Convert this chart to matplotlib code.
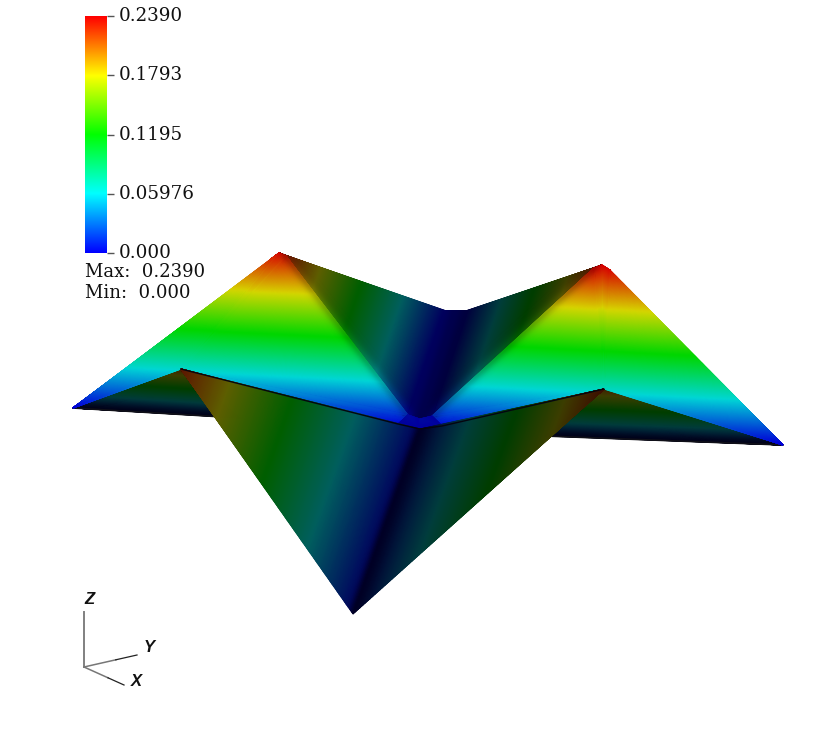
import numpy as np
import matplotlib
matplotlib.use("Agg")
import matplotlib.pyplot as plt
from matplotlib.colors import LinearSegmentedColormap, Normalize
from matplotlib.transforms import ScaledTranslation

# ---- scalar range and legend text -------------------------------------
VMIN, VMAX = 0.0, 0.2390
tick_values = [0.0, 0.05976, 0.1195, 0.1793, 0.2390]
tick_labels = ["0.000", "0.05976", "0.1195", "0.1793", "0.2390"]
max_text = "Max:  0.2390"
min_text = "Min:  0.000"
rainbow = ["#0000ff", "#00ffff", "#00ff00", "#ffff00", "#ff0000"]

# ---- projected surface vertices (screen position) --
L = (73, 408); BL = (279, 253); BL1 = (271, 259); BL2 = (286, 256)
R = (783, 445); BR = (602, 265); BR1 = (594, 268); BR2 = (610, 270)
VB1 = (445, 310.5); VB2 = (467, 310.5); VB0 = (456, 311)
VL = (408, 415); VM = (420, 419); VR = (432, 416)
CL = (398, 424); CM = (420, 429); CR = (442, 426)
FL = (181, 369); FR = (604, 389); F = (353, 614)
BOTL = (240, 418); BOTR = (545, 436)

# ---- panels: triangle corners, scalar at the corners, light level ------
wing_left_tris = [(L, BL1, FL), (BL1, BL, FL), (BL, BL2, FL), (BL2, VL, FL), (VL, CL, FL)]
wing_left_vals = [(0.0, 0.2266, 0.0634), (0.2266, 0.2357, 0.0634), (0.2357, 0.2319, 0.0634),
                  (0.2319, 0.0148, 0.0634), (0.0148, 0.0014, 0.0634)]
wing_right_tris = [(R, BR2, FR), (BR2, BR, FR), (BR, BR1, FR), (BR1, VR, FR), (VR, CR, FR)]
wing_right_vals = [(0.0, 0.2360, 0.0663), (0.2360, 0.2390, 0.0663), (0.2390, 0.2377, 0.0663),
                   (0.2377, 0.0152, 0.0663), (0.0152, 0.0017, 0.0663)]
cap_tris = [(VL, VM, CM), (VL, CM, CL), (VM, VR, CR), (VM, CR, CM)]
cap_vals = [(0.004, 0.0, 0.0)] * 4

valley_left_tris = [(BL, VB1, VL), (VB1, VB0, VM), (VB1, VM, VL)]
valley_left_vals = [(0.239, 0.0, 0.0), (0.0, 0.0, 0.0), (0.0, 0.0, 0.0)]
valley_right_tris = [(BR, VB2, VR), (VB2, VB0, VM), (VB2, VM, VR)]
valley_right_vals = [(0.239, 0.0, 0.0), (0.0, 0.0, 0.0), (0.0, 0.0, 0.0)]

under_left_tris = [(L, BOTL, FL)]
under_left_vals = [(0.0, 0.0, 0.205)]
under_right_tris = [(R, BOTR, FR)]
under_right_vals = [(0.0, 0.0, 0.205)]

front_left_tris = [(FL, CM, F)]
front_left_vals = [(0.225, 0.0, 0.0)]
front_right_tris = [(FR, CM, F)]
front_right_vals = [(0.225, 0.0, 0.0)]

LIT, DARK_L, DARK_R, CREASE = 0.84, 0.37, 0.24, 0.66

# ---- triad ---------------------------------------------------------------
origin = (84, 667)
axis_ends = {"Z": (84, 612), "Y": (137, 655), "X": (124, 685)}
axis_text = {"Z": (89, 600), "Y": (149, 648), "X": (136, 682)}

cmap = LinearSegmentedColormap.from_list("rainbow", rainbow, N=512)
norm = Normalize(VMIN, VMAX)

W, H = 830, 742
fig = plt.figure(figsize=(W / 100, H / 100), dpi=100, facecolor="white")
ax = fig.add_axes([0, 0, 1, 1])
ax.set_xlim(0, W)
ax.set_ylim(H, 0)
ax.axis("off")


def seg_dist(xx, yy, a, b):
    a = np.array(a, float); b = np.array(b, float)
    d = b - a
    t = np.clip(((xx - a[0]) * d[0] + (yy - a[1]) * d[1]) / (d @ d), 0, 1)
    return np.hypot(xx - a[0] - t * d[0], yy - a[1] - t * d[1])


def panel(tris, vals, shade, creases=(), n=150, z=1):
    for (A, B, C), (va, vb, vc) in zip(tris, vals):
        s, t = np.meshgrid(np.linspace(0, 1, n), np.linspace(0, 1, n))
        wa = 1 - s
        wb = s * (1 - t)
        wc = s * t
        xx = wa * A[0] + wb * B[0] + wc * C[0]
        yy = wa * A[1] + wb * B[1] + wc * C[1]
        vv = wa * va + wb * vb + wc * vc
        sh = np.full_like(xx, shade)
        for p, q, level, width in creases:
            w = np.exp(-(seg_dist(xx, yy, p, q) / width) ** 2)
            sh = sh * (1 - w) + level * w
        rgb = cmap(norm(vv))[..., :3] * sh[..., None]
        ax.pcolormesh(xx, yy, np.clip(rgb, 0, 1), shading="gouraud", zorder=z,
                      antialiased=False)


# back walls of the valley
panel(valley_left_tris, valley_left_vals, DARK_L,
      [(BL, VL, 0.50, 6), (VB0, VM, 0.30, 7)], z=1)
panel(valley_right_tris, valley_right_vals, DARK_R,
      [(BR, VR, 0.36, 7), (VB0, VM, 0.30, 7)], z=1)
# under side seen beyond the front fold
panel(under_left_tris, under_left_vals, DARK_R, [(L, BOTL, 0.10, 8)], z=1)
panel(under_right_tris, under_right_vals, DARK_R, [(R, BOTR, 0.10, 8)], z=1)
# rim, hidden where the front fold passes over it
for pts in [(L, BOTL), (BOTR, R)]:
    ax.plot([p[0] for p in pts], [p[1] for p in pts], color="#101018", lw=1.2, zorder=1.5)
# lit wings
panel(wing_left_tris, wing_left_vals, LIT, [(BL2, VL, CREASE, 5)], z=2)
panel(wing_right_tris, wing_right_vals, LIT, [(BR1, VR, CREASE, 5)], z=2)
panel(cap_tris, cap_vals, 0.62, n=30, z=3)
# front fold
panel(front_left_tris, front_left_vals, DARK_L, [(CM, F, 0.16, 5)], z=4)
panel(front_right_tris, front_right_vals, DARK_R, [(CM, F, 0.15, 12)], z=4)

# dark ridge line
ridge = (FL, CL, CM, CR, FR)
ax.plot([p[0] for p in ridge], [p[1] for p in ridge], color="#05050f", lw=1.0, zorder=5,
        solid_capstyle="round")

# triad
for name, end in axis_ends.items():
    mid = (origin[0] + 0.6 * (end[0] - origin[0]), origin[1] + 0.6 * (end[1] - origin[1]))
    if name == "Z":
        ax.plot([origin[0], end[0]], [origin[1], end[1]], color="#808080", lw=1.4, zorder=6)
    else:
        ax.plot([origin[0], mid[0]], [origin[1], mid[1]], color="#777777", lw=1.1, zorder=6)
        ax.plot([mid[0], end[0]], [mid[1], end[1]], color="#222222", lw=0.9, zorder=6)
    ax.text(*axis_text[name], name, family="Liberation Sans",
            style="italic", weight="bold", fontsize=12,
            ha="center", va="center", color="#111111", zorder=6)

# colour bar
cax = fig.add_axes([85 / W, 1 - 253 / H, 22 / W, 237 / H])
grad = np.linspace(VMIN, VMAX, 256)[:, None]
cax.imshow(grad, origin="lower", aspect="auto", cmap=cmap, norm=norm,
           extent=[0, 1, VMIN, VMAX], interpolation="bilinear")
cax.set_xticks([])
cax.yaxis.tick_right()
cax.set_yticks(tick_values, tick_labels, family="DejaVu Serif", fontsize=13.2, color="#111111")
cax.tick_params(axis="y", length=5, width=1, color="#555555", pad=3.5)
lift = ScaledTranslation(0, 2 / 100, fig.dpi_scale_trans)
for lab in cax.get_yticklabels():
    lab.set_transform(lab.get_transform() + lift)
for sp in cax.spines.values():
    sp.set_visible(False)

ax.text(85, 272, max_text, family="DejaVu Serif", fontsize=13, va="center", ha="left", color="#111111")
ax.text(85, 293, min_text, family="DejaVu Serif", fontsize=13, va="center", ha="left", color="#111111")

fig.savefig("out.png", dpi=100, facecolor="white")
